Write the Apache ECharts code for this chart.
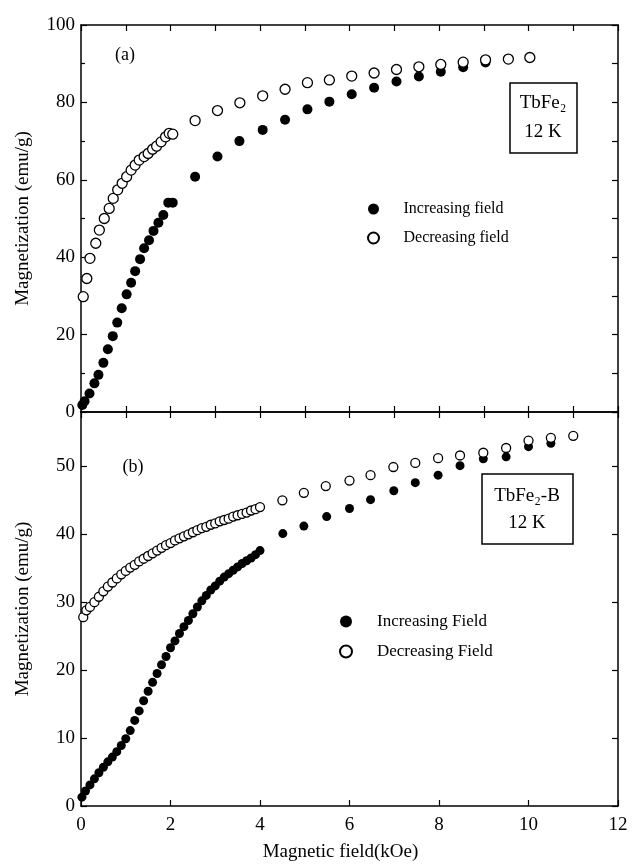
<!DOCTYPE html>
<html>
<head>
<meta charset="utf-8">
<title>TbFe2 magnetization</title>
<script src="https://cdn.jsdelivr.net/npm/echarts@6/dist/echarts.min.js"></script>
<style>
  html, body { margin: 0; padding: 0; background: #fff; }
  #chart { width: 634px; height: 866px; }
</style>
</head>
<body>
<div id="chart"></div>
<script>
// panel (a): TbFe2, 12 K  -- [field kOe, magnetization emu/g]
const incFieldA = [
  [0.03, 1.8], [0.08, 2.8], [0.19, 4.8], [0.30, 7.4], [0.39, 9.6], [0.50, 12.7],
  [0.60, 16.2], [0.71, 19.6], [0.81, 23.1], [0.91, 26.8], [1.02, 30.4], [1.12, 33.4],
  [1.21, 36.4], [1.32, 39.5], [1.41, 42.3], [1.52, 44.4], [1.62, 46.8], [1.73, 48.9],
  [1.84, 50.9], [1.95, 54.1], [2.05, 54.1], [2.55, 60.8], [3.05, 66.0], [3.54, 70.0],
  [4.06, 72.9], [4.56, 75.5], [5.06, 78.2], [5.55, 80.2], [6.05, 82.1], [6.55, 83.8],
  [7.05, 85.4], [7.55, 86.7], [8.04, 87.9], [8.54, 89.1], [9.04, 90.3]
];
const decFieldA = [
  [0.05, 29.8], [0.13, 34.5], [0.20, 39.7], [0.33, 43.6], [0.41, 47.0], [0.52, 50.0],
  [0.63, 52.6], [0.72, 55.2], [0.82, 57.4], [0.92, 59.1], [1.02, 60.8], [1.12, 62.5],
  [1.21, 63.8], [1.30, 65.1], [1.41, 66.0], [1.50, 66.8], [1.60, 67.9], [1.69, 68.7],
  [1.79, 69.8], [1.89, 71.1], [1.97, 72.0], [2.05, 71.8], [2.55, 75.3], [3.05, 77.9],
  [3.55, 79.9], [4.06, 81.7], [4.56, 83.4], [5.06, 85.1], [5.55, 85.8], [6.05, 86.8],
  [6.55, 87.6], [7.05, 88.5], [7.55, 89.2], [8.04, 89.8], [8.54, 90.4], [9.04, 91.0],
  [9.55, 91.2], [10.03, 91.6]
];

// panel (b): TbFe2-B, 12 K
const incFieldB = [
  [0.02, 1.3], [0.1, 2.2], [0.2, 3.1], [0.3, 4.0], [0.4, 4.9], [0.5, 5.7], [0.6, 6.5],
  [0.7, 7.2], [0.8, 8.0], [0.9, 8.9], [1.0, 9.9], [1.1, 11.1], [1.2, 12.6], [1.3, 14.0],
  [1.4, 15.5], [1.5, 16.9], [1.6, 18.2], [1.7, 19.5], [1.8, 20.8], [1.9, 22.0], [2.0, 23.3],
  [2.1, 24.3], [2.2, 25.4], [2.3, 26.4], [2.4, 27.3], [2.5, 28.3], [2.6, 29.3], [2.7, 30.2],
  [2.8, 31.0], [2.9, 31.8], [3.0, 32.4], [3.1, 33.1], [3.2, 33.7], [3.3, 34.2], [3.4, 34.7],
  [3.5, 35.2], [3.6, 35.7], [3.7, 36.1], [3.8, 36.5], [3.9, 37.0], [4.0, 37.6],
  [4.51, 40.1], [4.98, 41.2], [5.49, 42.6], [6.0, 43.8], [6.47, 45.1], [6.99, 46.4],
  [7.47, 47.6], [7.98, 48.7], [8.47, 50.1], [8.99, 51.1], [9.5, 51.4], [10.0, 52.9],
  [10.5, 53.4]
];
const decFieldB = [
  [0.05, 27.8], [0.12, 28.8], [0.2, 29.3], [0.3, 30.0], [0.4, 30.8], [0.5, 31.6], [0.6, 32.3],
  [0.7, 32.9], [0.8, 33.5], [0.9, 34.1], [1.0, 34.6], [1.1, 35.1], [1.2, 35.5], [1.3, 36.0],
  [1.4, 36.4], [1.5, 36.8], [1.6, 37.2], [1.7, 37.6], [1.8, 38.0], [1.9, 38.4], [2.0, 38.7],
  [2.1, 39.1], [2.2, 39.4], [2.3, 39.7], [2.4, 40.0], [2.5, 40.3], [2.6, 40.6], [2.7, 40.9],
  [2.8, 41.1], [2.9, 41.4], [3.0, 41.6], [3.1, 41.9], [3.2, 42.1], [3.3, 42.3], [3.4, 42.6],
  [3.5, 42.8], [3.6, 43.0], [3.7, 43.2], [3.8, 43.5], [3.9, 43.7], [4.0, 44.0],
  [4.5, 45.0], [4.98, 46.1], [5.47, 47.1], [6.0, 47.9], [6.47, 48.7], [6.98, 49.9],
  [7.47, 50.5], [7.98, 51.2], [8.47, 51.6], [8.99, 52.0], [9.5, 52.7], [10.0, 53.8],
  [10.5, 54.2], [11.0, 54.5]
];

const fieldRange = [0, 12];
const magRangeA = [0, 100];
const magRangeB = [0, 58];

const FONT = "Liberation Serif";
const black = "#000";

function frameAxis(extra) {
  return Object.assign({
    type: "value",
    axisLine: { show: true, onZero: false, lineStyle: { color: black, width: 1.5 } },
    axisTick: { show: true, inside: true, length: 6, lineStyle: { color: black, width: 1.2 } },
    axisLabel: { show: false },
    splitLine: { show: false },
  }, extra);
}

const tickLabel = { color: black, fontFamily: FONT, fontSize: 19 };
const nameStyle = { color: black, fontFamily: FONT, fontSize: 19 };

const filled = { color: black, opacity: 1 };
const hollow = { color: "#fff", borderColor: black, borderWidth: 1.3, opacity: 1 };

const chart = echarts.init(document.getElementById("chart"));
chart.setOption({
  animation: false,
  backgroundColor: "#fff",
  grid: [
    { left: 81, top: 25, width: 537, height: 387 },
    { left: 81, top: 412, width: 537, height: 394 },
  ],
  xAxis: [
    frameAxis({ gridIndex: 0, min: fieldRange[0], max: fieldRange[1], interval: 1, position: "bottom" }),
    frameAxis({ gridIndex: 0, min: fieldRange[0], max: fieldRange[1], interval: 1, position: "top" }),
    frameAxis({
      gridIndex: 1, min: fieldRange[0], max: fieldRange[1], interval: 2, position: "bottom",
      axisLabel: { show: true, margin: 10, ...tickLabel },
      name: "Magnetic field(kOe)", nameLocation: "middle", nameGap: 37,
      nameTextStyle: { ...nameStyle, padding: [0, 18, 0, 0] },
    }),
    frameAxis({ gridIndex: 1, min: fieldRange[0], max: fieldRange[1], interval: 1, position: "top" }),
  ],
  yAxis: [
    frameAxis({
      gridIndex: 0, min: magRangeA[0], max: magRangeA[1], interval: 20, position: "left",
      axisLabel: { show: true, margin: 6, ...tickLabel },
      minorTick: { show: true, splitNumber: 2, length: 4, lineStyle: { color: black, width: 1.2 } },
      name: "Magnetization (emu/g)", nameLocation: "middle", nameGap: 48, nameTextStyle: nameStyle,
    }),
    frameAxis({ gridIndex: 0, min: magRangeA[0], max: magRangeA[1], interval: 10, position: "right" }),
    frameAxis({
      gridIndex: 1, min: magRangeB[0], max: magRangeB[1], interval: 10, position: "left",
      axisLabel: { show: true, margin: 6, showMaxLabel: false, ...tickLabel },
      name: "Magnetization (emu/g)", nameLocation: "middle", nameGap: 48, nameTextStyle: nameStyle,
    }),
    frameAxis({ gridIndex: 1, min: magRangeB[0], max: magRangeB[1], interval: 10, position: "right" }),
  ],
  legend: [
    {
      data: ["Increasing field", "Decreasing field"],
      orient: "vertical", left: 367, top: 201, padding: 0,
      itemWidth: 50, itemHeight: 11, itemGap: 13,
      textStyle: { color: black, fontFamily: FONT, fontSize: 16 },
    },
    {
      data: ["Increasing Field", "Decreasing Field"],
      orient: "vertical", left: 339, top: 613, padding: 0,
      itemWidth: 52, itemHeight: 12, itemGap: 13,
      textStyle: { color: black, fontFamily: FONT, fontSize: 17 },
    },
  ],
  graphic: [
    { type: "text", x: 125, y: 55, style: { text: "(a)", fontFamily: FONT, fontSize: 18, fill: black, align: "center", verticalAlign: "middle" } },
    { type: "rect", shape: { x: 510, y: 83, width: 67, height: 70 }, style: { fill: "none", stroke: black, lineWidth: 1.5 } },
    { type: "text", x: 543, y: 103, style: { text: "TbFe₂", fontFamily: FONT, fontSize: 19, fill: black, align: "center", verticalAlign: "middle" } },
    { type: "text", x: 543, y: 132, style: { text: "12 K", fontFamily: FONT, fontSize: 19, fill: black, align: "center", verticalAlign: "middle" } },
    { type: "text", x: 133, y: 467, style: { text: "(b)", fontFamily: FONT, fontSize: 18, fill: black, align: "center", verticalAlign: "middle" } },
    { type: "rect", shape: { x: 482, y: 474, width: 91, height: 70 }, style: { fill: "none", stroke: black, lineWidth: 1.5 } },
    { type: "text", x: 527, y: 496, style: { text: "TbFe₂-B", fontFamily: FONT, fontSize: 19, fill: black, align: "center", verticalAlign: "middle" } },
    { type: "text", x: 527, y: 523, style: { text: "12 K", fontFamily: FONT, fontSize: 19, fill: black, align: "center", verticalAlign: "middle" } },
  ],
  series: [
    { name: "Increasing field", type: "scatter", xAxisIndex: 0, yAxisIndex: 0, symbolSize: 10, itemStyle: filled, data: incFieldA },
    { name: "Decreasing field", type: "scatter", xAxisIndex: 0, yAxisIndex: 0, symbolSize: 10, itemStyle: hollow, data: decFieldA },
    { name: "Increasing Field", type: "scatter", xAxisIndex: 2, yAxisIndex: 2, symbolSize: 9, itemStyle: filled, data: incFieldB },
    { name: "Decreasing Field", type: "scatter", xAxisIndex: 2, yAxisIndex: 2, symbolSize: 9, itemStyle: hollow, data: decFieldB },
  ],
});
</script>
</body>
</html>
